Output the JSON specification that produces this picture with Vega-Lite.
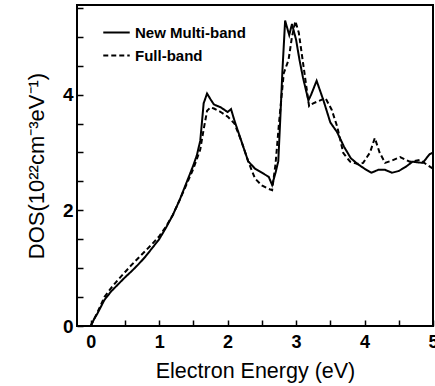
{
  "$schema": "https://vega.github.io/schema/vega-lite/v6.json",
  "width": 356,
  "height": 321,
  "autosize": "none",
  "padding": {"left": 77, "top": 5, "right": 2, "bottom": 60},
  "config": {
    "font": "Liberation Sans",
    "view": {"stroke": "black", "strokeWidth": 2}
  },
  "data": {
    "values": [
      {"s": "New Multi-band", "x": 0.0, "y": 0.0},
      {"s": "New Multi-band", "x": 0.05, "y": 0.12},
      {"s": "New Multi-band", "x": 0.1, "y": 0.22},
      {"s": "New Multi-band", "x": 0.2, "y": 0.45},
      {"s": "New Multi-band", "x": 0.3, "y": 0.6},
      {"s": "New Multi-band", "x": 0.4, "y": 0.72},
      {"s": "New Multi-band", "x": 0.5, "y": 0.84},
      {"s": "New Multi-band", "x": 0.6, "y": 0.95},
      {"s": "New Multi-band", "x": 0.7, "y": 1.07},
      {"s": "New Multi-band", "x": 0.8, "y": 1.2},
      {"s": "New Multi-band", "x": 0.9, "y": 1.35},
      {"s": "New Multi-band", "x": 1.0, "y": 1.5},
      {"s": "New Multi-band", "x": 1.1, "y": 1.7},
      {"s": "New Multi-band", "x": 1.2, "y": 1.92},
      {"s": "New Multi-band", "x": 1.3, "y": 2.18},
      {"s": "New Multi-band", "x": 1.4, "y": 2.48},
      {"s": "New Multi-band", "x": 1.5, "y": 2.78},
      {"s": "New Multi-band", "x": 1.55, "y": 2.95},
      {"s": "New Multi-band", "x": 1.6, "y": 3.2},
      {"s": "New Multi-band", "x": 1.65, "y": 3.85},
      {"s": "New Multi-band", "x": 1.7, "y": 4.02},
      {"s": "New Multi-band", "x": 1.75, "y": 3.92},
      {"s": "New Multi-band", "x": 1.8, "y": 3.83},
      {"s": "New Multi-band", "x": 1.9, "y": 3.78},
      {"s": "New Multi-band", "x": 2.0, "y": 3.7},
      {"s": "New Multi-band", "x": 2.05, "y": 3.75},
      {"s": "New Multi-band", "x": 2.1, "y": 3.55},
      {"s": "New Multi-band", "x": 2.2, "y": 3.2},
      {"s": "New Multi-band", "x": 2.3, "y": 2.85},
      {"s": "New Multi-band", "x": 2.4, "y": 2.72},
      {"s": "New Multi-band", "x": 2.5, "y": 2.65},
      {"s": "New Multi-band", "x": 2.6, "y": 2.58},
      {"s": "New Multi-band", "x": 2.65, "y": 2.44},
      {"s": "New Multi-band", "x": 2.7, "y": 2.65},
      {"s": "New Multi-band", "x": 2.74, "y": 2.85},
      {"s": "New Multi-band", "x": 2.77, "y": 3.6},
      {"s": "New Multi-band", "x": 2.8, "y": 4.4},
      {"s": "New Multi-band", "x": 2.84, "y": 5.28},
      {"s": "New Multi-band", "x": 2.9, "y": 5.03},
      {"s": "New Multi-band", "x": 2.94, "y": 5.22},
      {"s": "New Multi-band", "x": 3.0, "y": 4.95},
      {"s": "New Multi-band", "x": 3.05, "y": 4.6},
      {"s": "New Multi-band", "x": 3.1, "y": 4.3},
      {"s": "New Multi-band", "x": 3.18, "y": 3.9},
      {"s": "New Multi-band", "x": 3.22, "y": 4.0},
      {"s": "New Multi-band", "x": 3.3, "y": 4.24},
      {"s": "New Multi-band", "x": 3.4, "y": 3.9},
      {"s": "New Multi-band", "x": 3.5, "y": 3.52},
      {"s": "New Multi-band", "x": 3.6, "y": 3.35},
      {"s": "New Multi-band", "x": 3.7, "y": 3.1},
      {"s": "New Multi-band", "x": 3.8, "y": 2.9},
      {"s": "New Multi-band", "x": 3.9, "y": 2.8},
      {"s": "New Multi-band", "x": 4.0, "y": 2.72},
      {"s": "New Multi-band", "x": 4.1, "y": 2.65},
      {"s": "New Multi-band", "x": 4.2, "y": 2.7},
      {"s": "New Multi-band", "x": 4.3, "y": 2.7},
      {"s": "New Multi-band", "x": 4.4, "y": 2.65},
      {"s": "New Multi-band", "x": 4.5, "y": 2.68},
      {"s": "New Multi-band", "x": 4.6, "y": 2.75},
      {"s": "New Multi-band", "x": 4.7, "y": 2.84},
      {"s": "New Multi-band", "x": 4.85, "y": 2.82},
      {"s": "New Multi-band", "x": 4.95, "y": 2.97},
      {"s": "New Multi-band", "x": 5.0, "y": 3.0},
      {"s": "Full-band", "x": 0.0, "y": 0.0},
      {"s": "Full-band", "x": 0.05, "y": 0.12},
      {"s": "Full-band", "x": 0.1, "y": 0.24},
      {"s": "Full-band", "x": 0.2, "y": 0.5},
      {"s": "Full-band", "x": 0.3, "y": 0.66},
      {"s": "Full-band", "x": 0.4, "y": 0.8},
      {"s": "Full-band", "x": 0.5, "y": 0.93},
      {"s": "Full-band", "x": 0.6, "y": 1.06},
      {"s": "Full-band", "x": 0.7, "y": 1.18},
      {"s": "Full-band", "x": 0.8, "y": 1.3},
      {"s": "Full-band", "x": 0.9, "y": 1.42},
      {"s": "Full-band", "x": 1.0, "y": 1.55},
      {"s": "Full-band", "x": 1.1, "y": 1.72},
      {"s": "Full-band", "x": 1.2, "y": 1.92},
      {"s": "Full-band", "x": 1.3, "y": 2.18},
      {"s": "Full-band", "x": 1.4, "y": 2.45},
      {"s": "Full-band", "x": 1.5, "y": 2.72},
      {"s": "Full-band", "x": 1.6, "y": 3.05},
      {"s": "Full-band", "x": 1.65, "y": 3.4},
      {"s": "Full-band", "x": 1.7, "y": 3.72},
      {"s": "Full-band", "x": 1.75, "y": 3.78},
      {"s": "Full-band", "x": 1.8, "y": 3.76},
      {"s": "Full-band", "x": 1.9, "y": 3.7},
      {"s": "Full-band", "x": 2.0, "y": 3.62},
      {"s": "Full-band", "x": 2.1, "y": 3.5},
      {"s": "Full-band", "x": 2.2, "y": 3.2},
      {"s": "Full-band", "x": 2.3, "y": 2.85},
      {"s": "Full-band", "x": 2.4, "y": 2.55},
      {"s": "Full-band", "x": 2.5, "y": 2.43},
      {"s": "Full-band", "x": 2.6, "y": 2.37},
      {"s": "Full-band", "x": 2.65, "y": 2.35},
      {"s": "Full-band", "x": 2.7, "y": 2.8},
      {"s": "Full-band", "x": 2.75, "y": 3.5},
      {"s": "Full-band", "x": 2.82, "y": 4.37},
      {"s": "Full-band", "x": 2.89, "y": 4.6},
      {"s": "Full-band", "x": 2.94, "y": 5.0},
      {"s": "Full-band", "x": 2.99, "y": 5.27},
      {"s": "Full-band", "x": 3.04, "y": 5.07},
      {"s": "Full-band", "x": 3.11, "y": 4.48},
      {"s": "Full-band", "x": 3.19, "y": 3.8},
      {"s": "Full-band", "x": 3.25, "y": 3.85},
      {"s": "Full-band", "x": 3.31, "y": 3.88},
      {"s": "Full-band", "x": 3.43, "y": 3.94},
      {"s": "Full-band", "x": 3.52, "y": 3.74},
      {"s": "Full-band", "x": 3.6, "y": 3.45},
      {"s": "Full-band", "x": 3.69, "y": 2.99},
      {"s": "Full-band", "x": 3.79, "y": 2.84},
      {"s": "Full-band", "x": 3.9, "y": 2.8},
      {"s": "Full-band", "x": 3.98, "y": 2.82},
      {"s": "Full-band", "x": 4.08, "y": 3.0},
      {"s": "Full-band", "x": 4.15, "y": 3.25},
      {"s": "Full-band", "x": 4.22, "y": 3.0},
      {"s": "Full-band", "x": 4.3, "y": 2.82},
      {"s": "Full-band", "x": 4.4, "y": 2.86},
      {"s": "Full-band", "x": 4.52, "y": 2.92},
      {"s": "Full-band", "x": 4.66, "y": 2.84},
      {"s": "Full-band", "x": 4.81, "y": 2.87},
      {"s": "Full-band", "x": 4.96, "y": 2.75},
      {"s": "Full-band", "x": 5.0, "y": 2.72}
    ]
  },
  "mark": {"type": "line", "color": "black", "strokeWidth": 2},
  "encoding": {
    "x": {"field": "x", "type": "quantitative",
      "scale": {"domain": [-0.2, 5], "nice": false, "zero": false},
      "axis": {"tickCount": 11, "grid": false, "domain": false,
        "tickSize": -6, "tickColor": "black", "tickWidth": 1.5,
        "labelExpr": "datum.value % 1 === 0 ? format(datum.value, 'd') : ''",
        "labelFont": "Liberation Sans", "labelColor": "black",
        "labelFontSize": 18, "labelFontWeight": "bold", "labelPadding": 13, "labelFlush": false,
        "title": "Electron Energy (eV)", "titleFont": "Liberation Sans", "titleColor": "black",
        "titleFontSize": 21.5, "titleFontWeight": "normal", "titlePadding": 9}},
    "y": {"field": "y", "type": "quantitative",
      "scale": {"domain": [0, 5.55], "nice": false, "zero": false},
      "axis": {"tickCount": 11, "grid": false, "domain": false,
        "tickSize": -6, "tickColor": "black", "tickWidth": 1.5,
        "labelExpr": "datum.value % 2 === 0 ? format(datum.value, 'd') : ''",
        "labelFont": "Liberation Sans", "labelColor": "black",
        "labelFontSize": 19, "labelFontWeight": "bold", "labelPadding": 10, "labelFlush": false,
        "title": "DOS(10²²cm⁻³eV⁻¹)", "titleFont": "Liberation Sans", "titleColor": "black",
        "titleFontSize": 22, "titleFontWeight": "normal", "titlePadding": 14}},
    "strokeDash": {"field": "s", "type": "nominal",
      "scale": {"domain": ["New Multi-band", "Full-band"], "range": [[1, 0], [5, 3]]},
      "legend": {"orient": "none", "legendX": 25, "legendY": 13, "title": null, "padding": 0,
        "symbolType": "stroke", "symbolSize": 700, "symbolStrokeWidth": 2, "symbolStrokeColor": "black",
        "labelFont": "Liberation Sans", "labelFontSize": 15, "labelFontWeight": "bold", "labelColor": "black", "labelOffset": 4, "rowPadding": 0}}
  }
}
